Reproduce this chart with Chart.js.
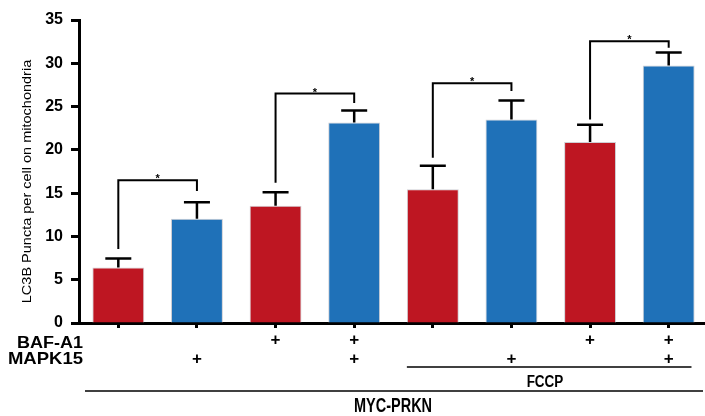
<!DOCTYPE html>
<html><head><meta charset="utf-8">
<script src="https://cdn.jsdelivr.net/npm/chart.js@4"></script>
<style>html,body{margin:0;padding:0;background:#fff;overflow:hidden}#wrap{position:relative;width:708px;height:416px}</style>
</head><body><div id="wrap"><canvas id="c"></canvas></div>
<script>
// ---- data ----
const categories = ['MYC-PRKN', 'MYC-PRKN + MAPK15', 'MYC-PRKN + BAF-A1', 'MYC-PRKN + BAF-A1 + MAPK15',
  'MYC-PRKN + FCCP', 'MYC-PRKN + FCCP + MAPK15', 'MYC-PRKN + FCCP + BAF-A1', 'MYC-PRKN + FCCP + BAF-A1 + MAPK15'];
const bafA1  = ['', '', '+', '+', '', '', '+', '+'];
const mapk15 = ['', '+', '', '+', '', '+', '', '+'];
const fccp   = [false, false, false, false, true, true, true, true];
const values = [6.4, 12.05, 13.55, 23.15, 15.45, 23.5, 20.9, 29.75];
const errors = [1.05, 1.9, 1.55, 1.4, 2.7, 2.2, 2.0, 1.5];
const barColors = ['#BE1622', '#1F71B8', '#BE1622', '#1F71B8', '#BE1622', '#1F71B8', '#BE1622', '#1F71B8'];
// [leftIndex, rightIndex, leftStart, top, rightEnd, label]
const brackets = [
  [0, 1, 8.55, 16.5, 15.25, '*'],
  [2, 3, 16.2, 26.5, 25.4, '*'],
  [4, 5, 19.1, 27.7, 26.8, '*'],
  [6, 7, 23.5, 32.55, 31.8, '*']
];
const yTicks = [0, 5, 10, 15, 20, 25, 30, 35];
const yTitle = 'LC3B Puncta per cell on mitochondria';
const rowLabels = ['BAF-A1', 'MAPK15'];
const groupLabels = ['FCCP', 'MYC-PRKN'];

const FONT = 'Liberation Sans, Arial, sans-serif';

function sText(ctx, text, x, y, font, sx, sy, align) {
  ctx.save();
  ctx.translate(x, y);
  ctx.scale(sx, sy);
  ctx.font = font;
  ctx.textAlign = align;
  ctx.textBaseline = 'alphabetic';
  ctx.fillStyle = '#000';
  ctx.fillText(text, 0, 0);
  ctx.restore();
}

const overlay = {
  id: 'overlay',
  afterDatasetsDraw(chart) {
    const { ctx, scales: { x, y } } = chart;
    ctx.save();
    ctx.strokeStyle = '#000';
    ctx.lineWidth = 2.5;
    values.forEach((v, i) => {
      const cx = x.getPixelForValue(i);
      const y0 = y.getPixelForValue(v);
      const y1 = y.getPixelForValue(v + errors[i]);
      ctx.beginPath();
      ctx.moveTo(cx, y0); ctx.lineTo(cx, y1);
      ctx.moveTo(cx - 13, y1); ctx.lineTo(cx + 13, y1);
      ctx.stroke();
    });
    ctx.lineWidth = 2;
    brackets.forEach(([a, b, s, t, e, lab]) => {
      const xa = x.getPixelForValue(a), xb = x.getPixelForValue(b);
      const yt = y.getPixelForValue(t);
      ctx.beginPath();
      ctx.moveTo(xa, y.getPixelForValue(s));
      ctx.lineTo(xa, yt);
      ctx.lineTo(xb, yt);
      ctx.lineTo(xb, y.getPixelForValue(e));
      ctx.stroke();
      sText(ctx, lab, (xa + xb) / 2, yt + 2, 'bold 11px ' + FONT, 1, 1, 'center');
    });
    ctx.restore();
  },
  afterDraw(chart) {
    const { ctx, scales: { x, y }, chartArea } = chart;
    // y title
    ctx.save();
    ctx.translate(30.5, 181.5);
    ctx.rotate(-Math.PI / 2);
    ctx.scale(1.16, 1);
    ctx.font = '12.5px ' + FONT;
    ctx.textAlign = 'center';
    ctx.textBaseline = 'alphabetic';
    ctx.fillStyle = '#000';
    ctx.fillText(yTitle, 0, 0);
    ctx.restore();
    // row labels
    sText(ctx, rowLabels[0], 83, 348.3, 'bold 18px ' + FONT, 1, 0.9, 'right');
    sText(ctx, rowLabels[1], 83, 364.3, 'bold 18.5px ' + FONT, 1, 0.9, 'right');
    // FCCP group line
    const fIdx = fccp.map((f, i) => f ? i : -1).filter(i => i >= 0);
    const step = x.getPixelForValue(1) - x.getPixelForValue(0);
    const fx0 = x.getPixelForValue(fIdx[0]) - step * 0.33;
    const fx1 = x.getPixelForValue(fIdx[fIdx.length - 1]) + step * 0.29;
    ctx.save();
    ctx.strokeStyle = '#000';
    ctx.lineWidth = 1.5;
    ctx.beginPath(); ctx.moveTo(fx0, 367); ctx.lineTo(fx1, 367); ctx.stroke();
    ctx.beginPath(); ctx.moveTo(chartArea.left + 6, 391); ctx.lineTo(703, 391); ctx.stroke();
    ctx.restore();
    sText(ctx, groupLabels[0], 545, 387.3, 'bold 13.5px ' + FONT, 1, 1.27, 'center');
    sText(ctx, groupLabels[1], 393, 411.7, 'bold 14.5px ' + FONT, 1, 1.38, 'center');
  }
};

new Chart(document.getElementById('c'), {
  type: 'bar',
  data: {
    labels: categories,
    datasets: [{
      data: values,
      backgroundColor: barColors,
      borderColor: '#cfcfd4',
      borderWidth: 1,
      barPercentage: 0.66,
      categoryPercentage: 1
    }]
  },
  options: {
    responsive: true,
    maintainAspectRatio: false,
    animation: false,
    devicePixelRatio: 1,
    layout: { padding: { top: 20, left: 0, right: 0, bottom: 0 } },
    plugins: { legend: { display: false }, tooltip: { enabled: false }, title: { display: false } },
    scales: {
      x: {
        grid: { display: true, drawOnChartArea: false, offset: false, drawTicks: true, tickLength: 5, tickWidth: 3, tickColor: '#000' },
        border: { display: true, color: '#000', width: 3 },
        ticks: {
          autoSkip: false, maxRotation: 0, minRotation: 0, padding: 3, color: '#000',
          font: { family: FONT, size: 17, weight: 'bold', lineHeight: 1.1 },
          callback: (v, i) => [bafA1[i], mapk15[i]]
        },
        afterFit(s) { s.height = 93; }
      },
      y: {
        min: 0, max: 35,
        afterBuildTicks(s) { s.ticks = yTicks.map(v => ({ value: v })); },
        ticks: { padding: 8, color: '#000', font: { family: FONT, size: 16, weight: 'bold' } },
        grid: { drawOnChartArea: false, drawTicks: true, tickLength: 8, tickWidth: 3, tickColor: '#000' },
        border: { display: true, color: '#000', width: 3 },
        afterFit(s) { s.width = 79; }
      }
    }
  },
  plugins: [overlay]
});
</script>
</body></html>
